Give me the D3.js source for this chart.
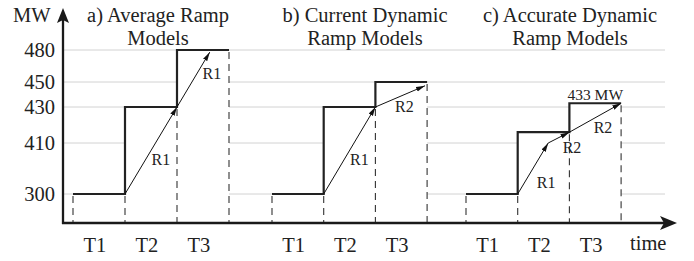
<!DOCTYPE html>
<html><head><meta charset="utf-8">
<script src="https://cdn.jsdelivr.net/npm/d3@7"></script>
<style>body{margin:0;background:#fff}svg{display:block}</style>
</head><body>
<script>
// ---- data ----
const mwTicks = [300, 410, 430, 450, 480];
const periodLabels = ["T1", "T2", "T3"];
const titleLine1 = ["a) Average Ramp", "b) Current Dynamic", "c) Accurate Dynamic"];
const titleLine2 = ["Models", "Ramp Models", "Ramp Models"];
const levelsA = [300, 430, 480];
const levelsB = [300, 430, 450];
const levelsC = [300, 416, 433];
const rampA = [[1, 300], [2, 430], [2.63, 478]];
const rampB = [[1, 300], [2, 430], [2.96, 447]];
const rampC = [[1, 300], [1.59, 410], [2, 416], [3, 433]];
const rampLabelsA = ["R1", "R1"];
const rampLabelsB = ["R1", "R2"];
const rampLabelsC = ["R1", "R2", "R2"];
const rampLabelPosA = [[1.69, 362], [2.67, 453]];
const rampLabelPosB = [[1.69, 362], [2.56, 427]];
const rampLabelPosC = [[1.55, 313], [2.05, 388], [2.65, 415.6]];
const finalLabel = "433 MW";
const finalLabelPos = [2.5, 436];

// ---- layout ----
const W = 694, H = 261;
const FONT = "'Liberation Serif', 'Times New Roman', serif";
const axisX = 63, axisY = 223;
const panelStart = [73, 272, 466];
const panelUnit = [52, 51.7, 51.7];
const titleX = [158, 365, 570];

const svg = d3.select("body").append("svg").attr("width", W).attr("height", H)
  .style("font-family", FONT);

function txt(sel, size) {
  return sel.attr("font-family", FONT).style("font-family", FONT)
    .attr("font-size", size).attr("fill", "#222");
}

const y = d3.scaleLinear().domain(mwTicks).range([194, 143, 107, 82, 50]);
const xs = panelStart.map((s, i) => d3.scaleLinear().domain([0, 3]).range([s, s + 3 * panelUnit[i]]));

const panels = [
  {levels: levelsA, ramp: rampA, labels: rampLabelsA, pos: rampLabelPosA},
  {levels: levelsB, ramp: rampB, labels: rampLabelsB, pos: rampLabelPosB},
  {levels: levelsC, ramp: rampC, labels: rampLabelsC, pos: rampLabelPosC}
];

const defs = svg.append("defs");
defs.append("marker").attr("id", "ah").attr("markerUnits", "userSpaceOnUse")
  .attr("markerWidth", 10).attr("markerHeight", 6).attr("refX", 9).attr("refY", 3)
  .attr("orient", "auto")
  .append("path").attr("d", "M0,0.6 L9,3 L0,5.4 Z").attr("fill", "#111");

// gridlines
svg.append("g").selectAll("line").data(mwTicks).join("line")
  .attr("x1", axisX).attr("x2", 665)
  .attr("y1", d => y(d)).attr("y2", d => y(d))
  .attr("stroke", "#d2d2d2").attr("stroke-width", 1);

panels.forEach((p, i) => {
  const x = xs[i];
  const g = svg.append("g");
  const stepPts = [[0, p.levels[0]], [1, p.levels[1]], [2, p.levels[2]], [3, p.levels[2]]];
  const area = d3.area().curve(d3.curveStepAfter)
    .x(d => x(d[0])).y0(axisY - 1).y1(d => y(d[1]));
  g.append("path").datum(stepPts.slice(1)).attr("d", area).attr("fill", "#fff");
  const dashTop = [p.levels[0], p.levels[0], p.levels[1], p.levels[2]];
  g.selectAll("line.dash").data(d3.range(4)).join("line")
    .attr("x1", k => x(k)).attr("x2", k => x(k))
    .attr("y1", k => y(dashTop[k]) + 2).attr("y2", axisY)
    .attr("stroke", "#333").attr("stroke-width", 1.1).attr("stroke-dasharray", "7,5");
  const line = d3.line().curve(d3.curveStepAfter).x(d => x(d[0])).y(d => y(d[1]));
  g.append("path").datum(stepPts).attr("d", line)
    .attr("fill", "none").attr("stroke", "#222").attr("stroke-width", 2.2);
  const segs = d3.pairs(p.ramp);
  g.selectAll("line.ramp").data(segs).join("line")
    .attr("x1", d => x(d[0][0])).attr("y1", d => y(d[0][1]))
    .attr("x2", d => x(d[1][0])).attr("y2", d => y(d[1][1]))
    .attr("stroke", "#111").attr("stroke-width", 1).attr("marker-end", "url(#ah)");
  txt(g.selectAll("text.rl").data(p.labels).join("text"), 16)
    .attr("x", (d, j) => x(p.pos[j][0])).attr("y", (d, j) => y(p.pos[j][1]))
    .attr("text-anchor", "middle").text(d => d);
  txt(g.selectAll("text.tl").data(periodLabels).join("text"), 20.5)
    .attr("x", (d, k) => x(k + 0.42)).attr("y", 252)
    .attr("text-anchor", "middle").text(d => d);
  txt(g.append("text"), 20.5).attr("x", titleX[i]).attr("y", 22).attr("text-anchor", "middle")
    .text(titleLine1[i]);
  txt(g.append("text"), 20.5).attr("x", titleX[i]).attr("y", 45).attr("text-anchor", "middle")
    .text(titleLine2[i]);
});

txt(svg.append("text"), 15.5).attr("x", xs[2](finalLabelPos[0])).attr("y", y(finalLabelPos[1]))
  .attr("text-anchor", "middle").text(finalLabel);

const yAxis = d3.axisLeft(y).tickValues(mwTicks).tickSize(0).tickPadding(8).tickFormat(d3.format("d"));
const ya = svg.append("g").attr("transform", `translate(${axisX},0)`).call(yAxis);
ya.select(".domain").remove();
txt(ya.selectAll("text"), 20.5);
ya.attr("font-family", FONT).attr("font-size", 20.5);

svg.append("line").attr("x1", axisX).attr("x2", axisX).attr("y1", axisY + 1).attr("y2", 18)
  .attr("stroke", "#1a1a1a").attr("stroke-width", 2.3);
svg.append("path").attr("d", `M${axisX},8 L${axisX + 6},23 L${axisX},20 L${axisX - 6},23 Z`).attr("fill", "#1a1a1a");
svg.append("line").attr("x1", axisX - 1).attr("x2", 668).attr("y1", axisY).attr("y2", axisY)
  .attr("stroke", "#1a1a1a").attr("stroke-width", 2.3);
svg.append("path").attr("d", `M677,${axisY} L660,${axisY - 7} L664,${axisY} L660,${axisY + 7} Z`).attr("fill", "#1a1a1a");

txt(svg.append("text"), 20.5).attr("x", 13).attr("y", 22).text("MW");
txt(svg.append("text"), 20.5).attr("x", 630).attr("y", 250).text("time");
</script>
</body></html>
